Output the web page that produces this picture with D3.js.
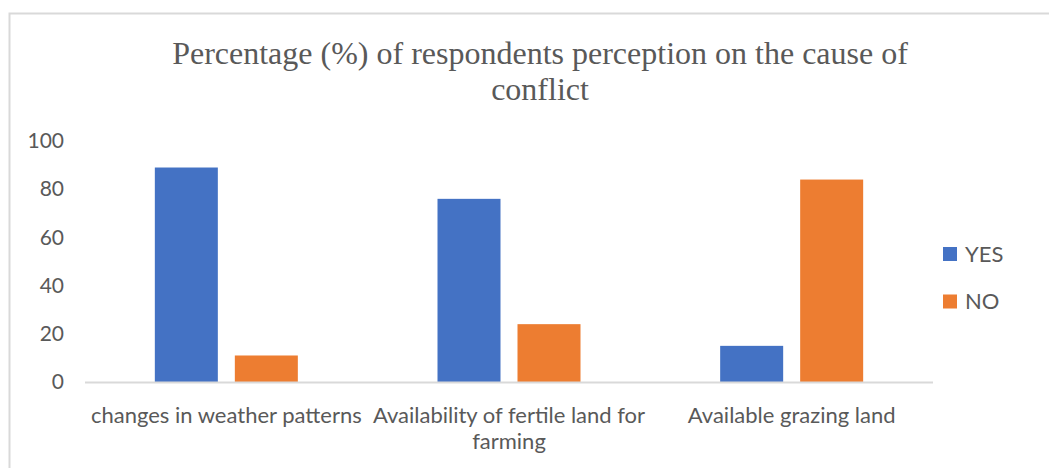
<!DOCTYPE html>
<html>
<head>
<meta charset="utf-8">
<script src="https://cdn.jsdelivr.net/npm/d3@7"></script>
<style>
  html, body { margin: 0; padding: 0; background: #fff; }
  svg { display: block; }
</style>
</head>
<body>
<svg id="chart" width="1049" height="468"></svg>
<script>
const categories = ["changes in weather patterns", "Availability of fertile land for farming", "Available grazing land"];
const categoryLines = [["changes in weather patterns"], ["Availability of fertile land for", "farming"], ["Available grazing land"]];
const series = ["YES", "NO"];
const yesValues = [89, 76, 15];
const noValues = [11, 24, 84];
const yTicks = [0, 20, 40, 60, 80, 100];
const titleLines = ["Percentage (%) of respondents perception on the cause of", "conflict"];
const colors = {YES: "#4472C4", NO: "#ED7D31"};

const svg = d3.select("#chart");
const W = 1049, H = 468;
const plot = {left: 85, right: 933, top: 141, bottom: 382};
const textColor = "#595959";
const sans = "Lato, 'Open Sans', sans-serif";

// border
svg.append("rect").attr("x", 9.5).attr("y", 13.5).attr("width", W + 20).attr("height", H + 20)
  .attr("fill", "#fff").attr("stroke", "#d9d9d9").attr("stroke-width", 2);

// title
const title = svg.append("text").attr("text-anchor", "middle")
  .attr("font-family", "'Liberation Serif', 'Times New Roman', serif")
  .attr("font-size", 32).attr("fill", textColor);
titleLines.forEach((t, i) => {
  title.append("tspan").attr("x", 540).attr("y", 64 + i * 36).text(t);
});

const x0 = d3.scaleBand().domain(categories).range([plot.left, plot.right]).paddingInner(0).paddingOuter(0);
const groupW = 143;
const x1 = d3.scaleBand().domain(series)
  .range([(x0.bandwidth() - groupW) / 2, (x0.bandwidth() + groupW) / 2])
  .paddingInner(0.2125).paddingOuter(0);
const y = d3.scaleLinear().domain([0, 100]).range([plot.bottom, plot.top]);

// y axis labels
const yAxis = d3.axisLeft(y).tickValues(yTicks).tickSize(0).tickPadding(0);
const yg = svg.append("g").attr("transform", `translate(64,0)`).call(yAxis);
yg.select(".domain").remove();
yg.selectAll("text").attr("font-family", sans).attr("font-size", 21).attr("fill", textColor);

// bars
const data = categories.map((c, i) => ({cat: c, values: [{s: "YES", v: yesValues[i]}, {s: "NO", v: noValues[i]}]}));
const groups = svg.append("g").selectAll("g").data(data).join("g")
  .attr("transform", d => `translate(${x0(d.cat)},0)`);
groups.selectAll("rect").data(d => d.values).join("rect")
  .attr("x", d => x1(d.s)).attr("width", x1.bandwidth())
  .attr("y", d => y(d.v)).attr("height", d => y(0) - y(d.v))
  .attr("fill", d => colors[d.s]);

// baseline
svg.append("line").attr("x1", plot.left).attr("x2", plot.right)
  .attr("y1", y(0) + 0.5).attr("y2", y(0) + 0.5)
  .attr("stroke", "#d9d9d9").attr("stroke-width", 2);

// x labels
const xAxis = d3.axisBottom(x0).tickSize(0).tickFormat(() => "");
const xg = svg.append("g").attr("transform", `translate(0,${plot.bottom})`).call(xAxis);
xg.select(".domain").remove();
xg.selectAll(".tick text").each(function(d, i) {
  const t = d3.select(this).attr("font-family", sans).attr("font-size", 22).attr("fill", textColor).attr("y", 0).attr("dy", 0);
  categoryLines[i].forEach((line, j) => {
    t.append("tspan").attr("x", 0).attr("y", 41 + j * 26).text(line);
  });
});

// legend
const legend = svg.append("g").attr("transform", "translate(943,247)");
series.forEach((s, i) => {
  const g = legend.append("g").attr("transform", `translate(0,${i * 47.5})`);
  g.append("rect").attr("width", 14).attr("height", 14).attr("fill", colors[s]);
  g.append("text").attr("x", 22).attr("y", 14.5).attr("font-family", sans).attr("font-size", 22)
    .attr("fill", textColor).text(s);
});
</script>
</body>
</html>
